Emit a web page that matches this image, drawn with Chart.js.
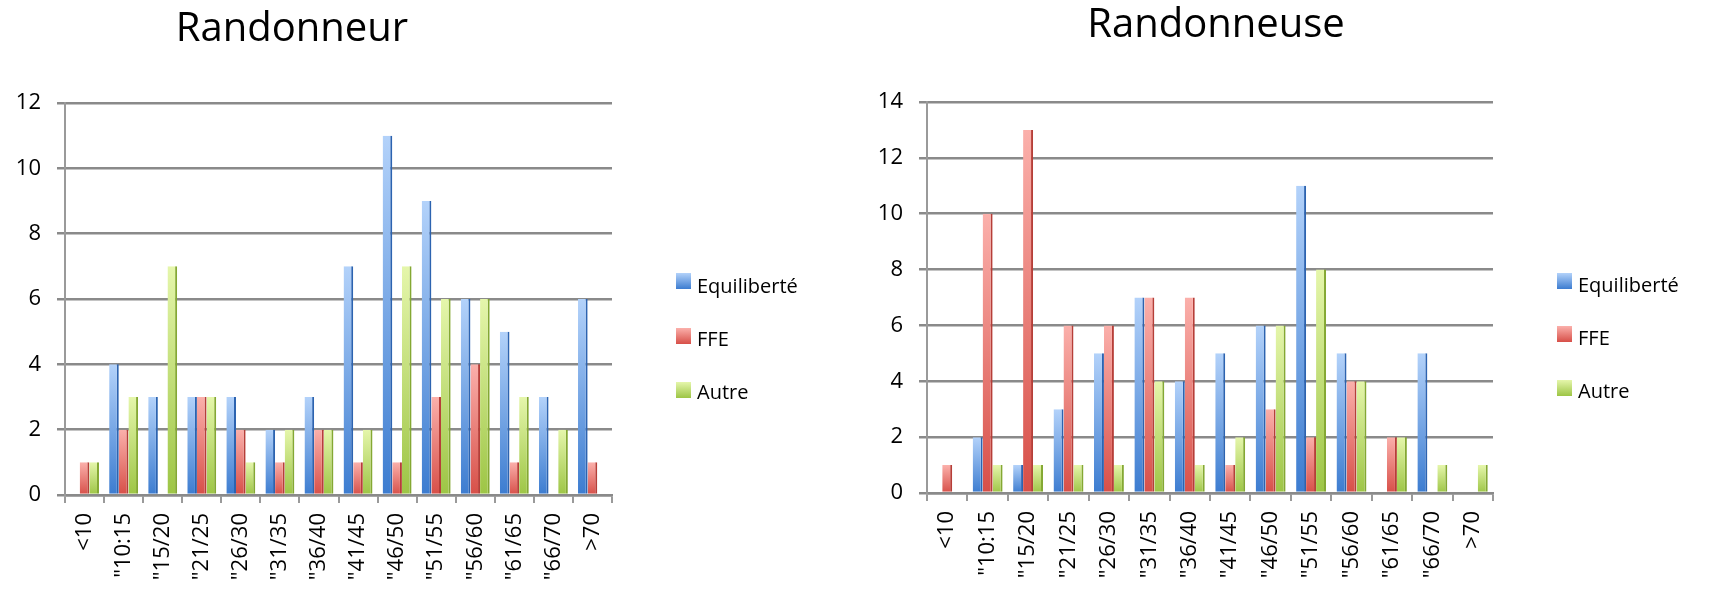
<!DOCTYPE html>
<html>
<head>
<meta charset="utf-8">
<script src="https://cdn.jsdelivr.net/npm/chart.js@4.4.1/dist/chart.umd.min.js"></script>
<style>
  html, body { margin: 0; padding: 0; background: #ffffff; }
  body { width: 1710px; height: 589px; position: relative; overflow: hidden; }
  .box { position: absolute; top: 0; height: 589px; }
  #b1 { left: -232px; width: 1048px; }
  #b2 { left: 722px; width: 988px; }
</style>
</head>
<body>
<div class="box" id="b1"><canvas id="c1"></canvas></div>
<div class="box" id="b2"><canvas id="c2"></canvas></div>
<script>
const categories = ['<10', '"10:15', '"15/20', '"21/25', '"26/30', '"31/35', '"36/40', '"41/45', '"46/50', '"51/55', '"56/60', '"61/65', '"66/70', '>70'];
const seriesNames = ['Equiliberté', 'FFE', 'Autre'];

// Randonneur
const homEquiliberte = [0, 4, 3, 3, 3, 2, 3, 7, 11, 9, 6, 5, 3, 6];
const homFFE         = [1, 2, 0, 3, 2, 1, 2, 1, 1, 3, 4, 1, 0, 1];
const homAutre       = [1, 3, 7, 3, 1, 2, 2, 2, 7, 6, 6, 3, 2, 0];
const homTicks       = [0, 2, 4, 6, 8, 10, 12];

// Randonneuse
const femEquiliberte = [0, 2, 1, 3, 5, 7, 4, 5, 6, 11, 5, 0, 5, 0];
const femFFE         = [1, 10, 13, 6, 6, 7, 7, 1, 3, 2, 4, 2, 0, 0];
const femAutre       = [0, 1, 1, 1, 1, 4, 1, 2, 6, 8, 4, 2, 1, 1];
const femTicks       = [0, 2, 4, 6, 8, 10, 12, 14];

const FONT = '"Open Sans", Lato, "Liberation Sans", sans-serif';
const palette = [
  { top: '#b3d2fa', bottom: '#3c7cd0', side: '#2c63b0' },
  { top: '#fbb0ab', bottom: '#d74f48', side: '#b63e38' },
  { top: '#e5f6ab', bottom: '#9dc545', side: '#84a833' }
];

function barGradient(p) {
  return (c) => {
    if (c.type !== 'data') return p.bottom;
    const ch = c.chart;
    const y = ch.scales.y;
    if (!y || !ch.chartArea) return p.bottom;
    const y0 = y.getPixelForValue(c.raw || 0);
    const y1 = y.getPixelForValue(0);
    if (!isFinite(y0) || !isFinite(y1) || y1 - y0 < 1) return p.bottom;
    const g = ch.ctx.createLinearGradient(0, y0, 0, y1);
    g.addColorStop(0, p.top);
    g.addColorStop(1, p.bottom);
    return g;
  };
}

const sideLegend = {
  id: 'sideLegend',
  afterDraw(chart, args, opts) {
    const ctx = chart.ctx;
    ctx.save();
    ctx.font = '20px ' + FONT;
    ctx.textBaseline = 'alphabetic';
    ctx.textAlign = 'left';
    chart.data.datasets.forEach((ds, i) => {
      const p = palette[i];
      const sy = opts.squareTop[i];
      const g = ctx.createLinearGradient(0, sy, 0, sy + 16);
      g.addColorStop(0, p.top);
      g.addColorStop(1, p.bottom);
      ctx.fillStyle = g;
      ctx.fillRect(opts.x, sy, 15, 16);
      ctx.fillStyle = '#000000';
      ctx.fillText(ds.label, opts.x + 21, opts.baseline[i]);
    });
    ctx.restore();
  }
};

function makeChart(id, title, seriesArrays, ticks, cfg) {
  const datasets = seriesArrays.map((arr, i) => ({
    label: seriesNames[i],
    data: arr,
    backgroundColor: barGradient(palette[i]),
    borderColor: palette[i].side,
    borderWidth: { top: 0, left: 0, bottom: 0, right: 2 },
    borderSkipped: false,
    categoryPercentage: cfg.catPct,
    barPercentage: 1.0
  }));
  return new Chart(document.getElementById(id), {
    type: 'bar',
    data: { labels: categories, datasets },
    plugins: [sideLegend],
    options: {
      responsive: true,
      maintainAspectRatio: false,
      animation: false,
      events: [],
      layout: { padding: 0 },
      plugins: {
        legend: { display: false },
        tooltip: { enabled: false },
        title: {
          display: true,
          text: title,
          color: '#000000',
          font: { family: FONT, size: 40, weight: 'normal', lineHeight: 1.2 },
          padding: { top: cfg.titleTop, bottom: cfg.titleBottom }
        },
        sideLegend: cfg.legend
      },
      scales: {
        x: {
          offset: true,
          grid: { display: true, drawOnChartArea: false, offset: true, tickLength: 8, color: '#9a9a9a', lineWidth: 2 },
          border: { display: true, color: '#8a8a8a', width: 2.5 },
          ticks: {
            color: '#000000',
            font: { family: FONT, size: 22 },
            minRotation: 90, maxRotation: 90, autoSkip: false, padding: 10
          },
          afterFit(s) { s.height = cfg.xHeight; }
        },
        y: {
          position: 'left',
          min: 0,
          max: ticks[ticks.length - 1],
          afterBuildTicks(s) { s.ticks = ticks.map(v => ({ value: v })); },
          grid: { color: '#8a8a8a', lineWidth: 2.5, tickLength: 8 },
          border: { display: true, color: '#9a9a9a', width: 2 },
          ticks: { color: '#000000', font: { family: FONT, size: 22 }, padding: 16 },
          afterFit(s) { s.width = cfg.yWidth; }
        },
        gap: {
          position: 'right',
          display: true,
          grid: { display: false },
          border: { display: false },
          ticks: { display: false },
          afterFit(s) { s.width = cfg.gapWidth; }
        }
      }
    }
  });
}

makeChart('c1', 'Randonneur', [homEquiliberte, homFFE, homAutre], homTicks, {
  catPct: 0.74, titleTop: 6, titleBottom: 49,
  xHeight: 94, yWidth: 297, gapWidth: 204,
  legend: { x: 908, squareTop: [273, 328, 382], baseline: [293, 346, 399] }
});

makeChart('c2', 'Randonneuse', [femEquiliberte, femFFE, femAutre], femTicks, {
  catPct: 0.74, titleTop: 2, titleBottom: 52,
  xHeight: 96, yWidth: 205, gapWidth: 217,
  legend: { x: 835, squareTop: [273, 326, 380], baseline: [292, 345, 398] }
});
</script>
</body>
</html>
